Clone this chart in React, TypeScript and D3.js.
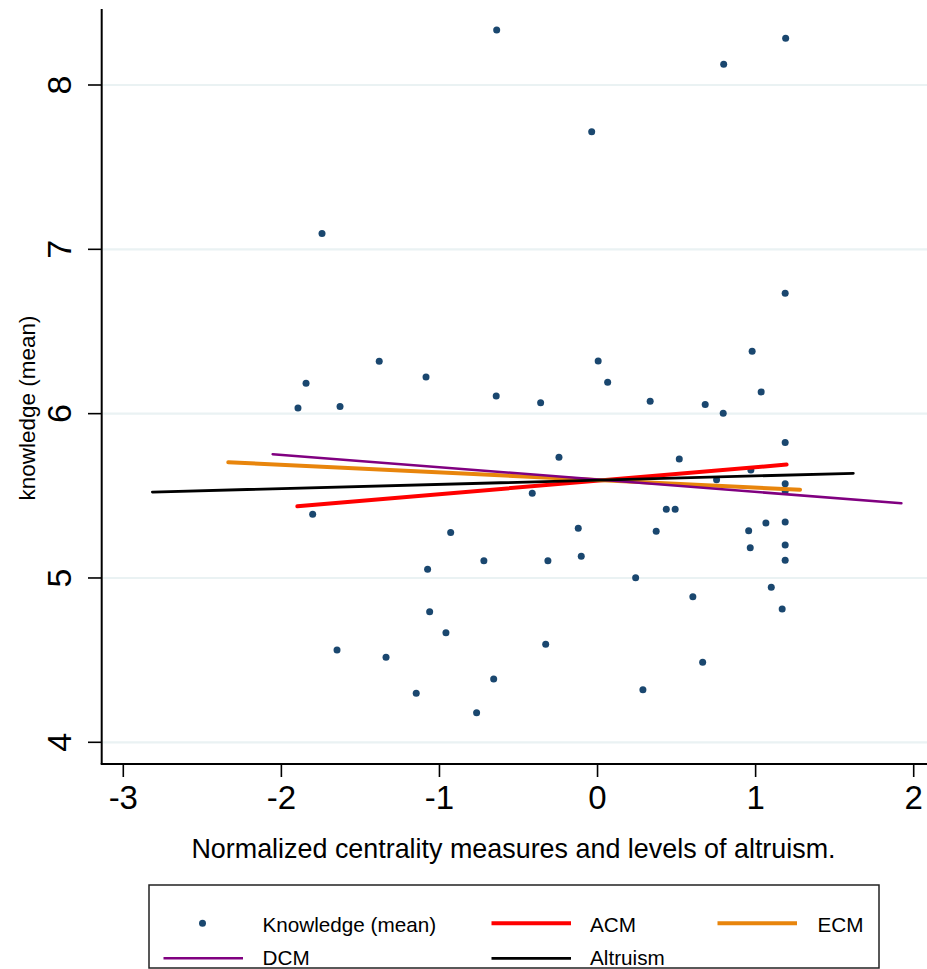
import React from "react";
import * as d3 from "d3";

const knowX = [
  -0.638, -1.743, -0.037, 1.19, 0.798, -1.844, -1.895, -1.629, -1.381, -1.085,
  -0.641, -0.36, -0.244, -0.413, -1.802, -0.929, -0.122, -0.719, -0.314, -0.103,
  -1.075, -1.062, -0.959, -1.648, -1.338, -0.328, -0.657, -1.147, -0.765, 0.603,
  1.168, 0.665, 0.287, 1.099, 1.187, 0.978, 0.004, 0.064, 1.035, 0.333,
  0.681, 0.795, 1.187, 0.517, 0.97, 0.753, 1.187, 1.187, 0.435, 0.491,
  0.371, 0.956, 1.065, 1.187, 0.966, 1.187, 1.187, 0.241,
];
const knowY = [
  8.334, 7.096, 7.716, 8.285, 8.127, 6.185, 6.035, 6.043, 6.319, 6.223,
  6.108, 6.067, 5.735, 5.516, 5.388, 5.276, 5.302, 5.105, 5.105, 5.132,
  5.053, 4.795, 4.667, 4.562, 4.517, 4.596, 4.385, 4.298, 4.18, 4.886,
  4.811, 4.487, 4.32, 4.943, 6.733, 6.38, 6.321, 6.191, 6.132, 6.075,
  6.055, 6.002, 5.824, 5.724, 5.657, 5.597, 5.574, 5.53, 5.418, 5.418,
  5.284, 5.288, 5.335, 5.341, 5.184, 5.201, 5.108, 5.002,
];

const fitNames = ["ACM", "ECM", "DCM", "Altruism"];
const fitX0 = [-1.899, -2.336, -2.055, -2.816];
const fitY0 = [5.436, 5.704, 5.753, 5.523];
const fitX1 = [1.196, 1.281, 1.922, 1.618];
const fitY1 = [5.69, 5.537, 5.455, 5.637];
const fitColors = ["#ff0000", "#e8850c", "#800080", "#000000"];
const fitWidths = [4, 4, 2.6, 2.8];

const xTicks = [-3, -2, -1, 0, 1, 2];
const yTicks = [4, 5, 6, 7, 8];

const xTitle = "Normalized centrality measures and levels of altruism.";
const yTitle = "knowledge (mean)";
const scatterLabel = "Knowledge (mean)";

const W = 927;
const H = 969;
const FONT = "'Liberation Sans', Arial, Helvetica, sans-serif";

export default function App() {
  const x = d3.scaleLinear().domain([-3, 2]).range([123.3, 913.7]);
  const y = d3.scaleLinear().domain([4, 8]).range([742.3, 85]);
  const left = 101.7;
  const right = W;
  const top = 9;
  const bottom = 764;
  const line = d3.line<[number, number]>().x((d) => x(d[0])).y((d) => y(d[1]));

  const legendItems = [
    { label: scatterLabel, kind: "dot", col: 0, row: 0 },
    { label: fitNames[0], kind: 0, col: 1, row: 0 },
    { label: fitNames[1], kind: 1, col: 2, row: 0 },
    { label: fitNames[2], kind: 2, col: 0, row: 1 },
    { label: fitNames[3], kind: 3, col: 1, row: 1 },
  ];
  const colSymX = [163.5, 491.5, 717.5];
  const colTextX = [262.5, 590, 817.5];
  const rowY = [923.3, 958.3];
  const rowText = [931.8, 965.3];

  return (
    <svg
      width={W}
      height={H}
      style={{ position: "absolute", left: 0, top: 0, background: "#fff" }}
      fontFamily={FONT}
    >
      <rect x={0} y={0} width={W} height={H} fill="#fff" />
      {yTicks.map((t) => (
        <line key={"g" + t} x1={left + 1} x2={right} y1={y(t)} y2={y(t)} stroke="#eaf2f3" strokeWidth={2.2} />
      ))}
      {knowX.map((v, i) => (
        <circle key={"p" + i} cx={x(v)} cy={y(knowY[i])} r={3.5} fill="#1a476f" />
      ))}
      {fitNames.map((n, i) => (
        <path
          key={"f" + n}
          d={line([
            [fitX0[i], fitY0[i]],
            [fitX1[i], fitY1[i]],
          ]) || ""}
          stroke={fitColors[i]}
          strokeWidth={fitWidths[i]}
          strokeLinecap="round"
          fill="none"
        />
      ))}
      <line x1={left} x2={left} y1={top} y2={bottom} stroke="#000" strokeWidth={2} />
      <line x1={left - 1} x2={right} y1={bottom} y2={bottom} stroke="#000" strokeWidth={2} />
      {yTicks.map((t) => (
        <g key={"yt" + t}>
          <line x1={88} x2={left} y1={y(t)} y2={y(t)} stroke="#000" strokeWidth={1.6} />
          <text
            transform={`translate(70.7,${y(t)}) rotate(-90)`}
            textAnchor="middle"
            fontSize={34}
            fill="#000"
          >
            {t}
          </text>
        </g>
      ))}
      {xTicks.map((t) => (
        <g key={"xt" + t}>
          <line x1={x(t)} x2={x(t)} y1={bottom} y2={777} stroke="#000" strokeWidth={1.6} />
          <text x={x(t)} y={809} textAnchor="middle" fontSize={33} fill="#000">
            {t}
          </text>
        </g>
      ))}
      <text x={513.5} y={858} textAnchor="middle" fontSize={26.9} fill="#000">
        {xTitle}
      </text>
      <text transform={`translate(35,408) rotate(-90)`} textAnchor="middle" fontSize={22.5} fill="#000">
        {yTitle}
      </text>
      <rect x={149} y={885} width={730} height={83} fill="#fff" stroke="#222" strokeWidth={1.5} />
      {legendItems.map((it, i) => {
        const cy = rowY[it.row];
        return (
          <g key={"l" + i}>
            {it.kind === "dot" ? (
              <circle cx={202.5} cy={cy} r={3.5} fill="#1a476f" />
            ) : (
              <line
                x1={colSymX[it.col]}
                x2={colSymX[it.col] + 79.5}
                y1={cy}
                y2={cy}
                stroke={fitColors[it.kind as number]}
                strokeWidth={fitWidths[it.kind as number]}
              />
            )}
            <text x={colTextX[it.col]} y={rowText[it.row]} fontSize={20.7} fill="#000">
              {it.label}
            </text>
          </g>
        );
      })}
    </svg>
  );
}
